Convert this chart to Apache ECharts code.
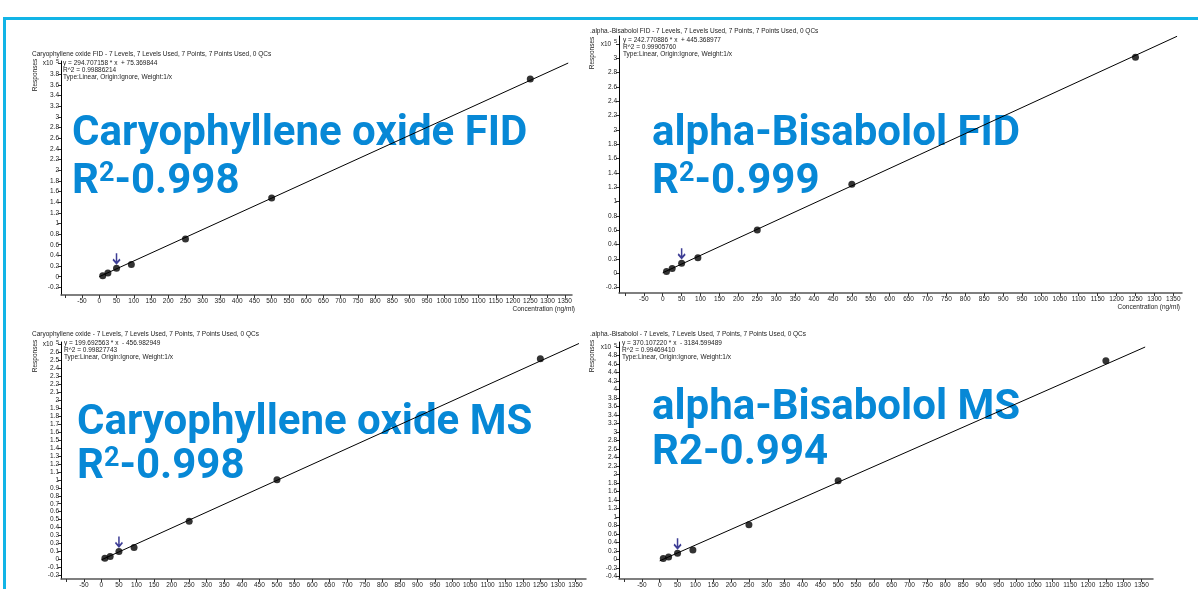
<!DOCTYPE html>
<html>
<head>
<meta charset="utf-8">
<script src="https://cdn.jsdelivr.net/npm/echarts@6/dist/echarts.min.js"></script>
<style>
html, body { margin: 0; padding: 0; background: #fff; }
#chart { width: 1198px; height: 589px; }
</style>
</head>
<body>
<div id="chart"></div>
<script>
// calibration levels, ng/ml
var levels = [10, 25, 50, 93, 250, 500, 1250];
var markedLevel = 50;

// responses (x10^5)
var caryFid = [0.02, 0.07, 0.157, 0.23, 0.707, 1.476, 3.71];
var bisaFid = [0.022, 0.064, 0.139, 0.213, 0.602, 1.242, 3.013];
var caryMs = [0.016, 0.037, 0.10, 0.15, 0.48, 1.0, 2.52];
var bisaMs = [0.023, 0.06, 0.145, 0.22, 0.815, 1.855, 4.68];

// ends of the fitted lines [conc, response x10^5]
var caryFidFit = [[0, 0.0008], [1360, 4.0088]];
var bisaFidFit = [[0, 0.0045], [1360, 3.3061]];
var caryMsFit = [[0, -0.0046], [1360, 2.7112]];
var bisaMsFit = [[0, -0.0318], [1360, 5.0016]];

// tick labels
var xTicks = [-100, -50, 0, 50, 100, 150, 200, 250, 300, 350, 400, 450, 500, 550, 600, 650,
  700, 750, 800, 850, 900, 950, 1000, 1050, 1100, 1150, 1200, 1250, 1300, 1350];
var xLabels = [-50, 0, 50, 100, 150, 200, 250, 300, 350, 400, 450, 500, 550, 600, 650,
  700, 750, 800, 850, 900, 950, 1000, 1050, 1100, 1150, 1200, 1250, 1300, 1350];
var yTicksCaryFid = [-0.2, 0, 0.2, 0.4, 0.6, 0.8, 1, 1.2, 1.4, 1.6, 1.8, 2, 2.2, 2.4, 2.6, 2.8, 3, 3.2, 3.4, 3.6, 3.8, 4];
var yTicksBisaFid = [-0.2, 0, 0.2, 0.4, 0.6, 0.8, 1, 1.2, 1.4, 1.6, 1.8, 2, 2.2, 2.4, 2.6, 2.8, 3, 3.2];
var yTicksCaryMs = [-0.2, -0.1, 0, 0.1, 0.2, 0.3, 0.4, 0.5, 0.6, 0.7, 0.8, 0.9, 1, 1.1, 1.2, 1.3, 1.4, 1.5,
  1.6, 1.7, 1.8, 1.9, 2, 2.1, 2.2, 2.3, 2.4, 2.5, 2.6, 2.7];
var yTicksBisaMs = [-0.4, -0.2, 0, 0.2, 0.4, 0.6, 0.8, 1, 1.2, 1.4, 1.6, 1.8, 2, 2.2, 2.4, 2.6, 2.8, 3,
  3.2, 3.4, 3.6, 3.8, 4, 4.2, 4.4, 4.6, 4.8, 5];

var smallFont = '"Liberation Sans", Arial, sans-serif';
var bigFont = 'Roboto, "Noto Sans", sans-serif';
var blue = '#0788d6';

var panels = [
  {grid: {left: 61, top: 61, width: 511, height: 234}, x: [-111, 1371], y: [-0.343, 4.047],
   yTicks: yTicksCaryFid, values: caryFid, fit: caryFidFit},
  {grid: {left: 619, top: 36, width: 563, height: 257}, x: [-115.6, 1373], y: [-0.278, 3.31],
   yTicks: yTicksBisaFid, values: bisaFid, fit: bisaFidFit},
  {grid: {left: 61, top: 342, width: 525, height: 239}, x: [-115, 1380], y: [-0.245, 2.73],
   yTicks: yTicksCaryMs, values: caryMs, fit: caryMsFit},
  {grid: {left: 619, top: 342, width: 534, height: 241}, x: [-114, 1382], y: [-0.46, 5.12],
   yTicks: yTicksBisaMs, values: bisaMs, fit: bisaMsFit}
];

var grids = [], xAxes = [], yAxes = [], series = [];
panels.forEach(function (p, i) {
  grids.push(p.grid);
  xAxes.push({
    type: 'value', gridIndex: i, min: p.x[0], max: p.x[1],
    splitLine: {show: false},
    axisLine: {onZero: false, lineStyle: {color: '#555', width: 1.5}},
    axisTick: {customValues: xTicks, length: 3, lineStyle: {color: '#333'}},
    axisLabel: {customValues: xLabels, fontSize: 6.5, fontFamily: smallFont, color: '#222', margin: 3,
      formatter: function (v) { return String(v); }}
  });
  var top = p.yTicks[p.yTicks.length - 1];
  yAxes.push({
    type: 'value', gridIndex: i, min: p.y[0], max: p.y[1],
    splitLine: {show: false},
    axisLine: {onZero: false, lineStyle: {color: '#000', width: 1}},
    axisTick: {customValues: p.yTicks, length: 3, lineStyle: {color: '#333'}},
    axisLabel: {
      customValues: p.yTicks, fontSize: 6.5, fontFamily: smallFont, color: '#222', margin: 2,
      formatter: function (v) { return v === top ? '{a|x10 }{e|5}' : String(+v.toFixed(2)); },
      rich: {
        a: {fontSize: 6.5, fontFamily: smallFont, color: '#222'},
        e: {fontSize: 5.5, fontFamily: smallFont, color: '#222', padding: [0, 0, 4, 1]}
      }
    }
  });
  series.push({
    type: 'line', xAxisIndex: i, yAxisIndex: i, data: p.fit,
    showSymbol: false, silent: true,
    lineStyle: {color: '#000', width: 1}
  });
  series.push({
    type: 'scatter', xAxisIndex: i, yAxisIndex: i, symbolSize: 7,
    itemStyle: {color: '#000'},
    data: levels.map(function (c, k) { return [c, p.values[k]]; })
  });
  var m = levels.indexOf(markedLevel);
  series.push({
    type: 'scatter', xAxisIndex: i, yAxisIndex: i,
    symbol: 'path://M5,0 L5,10 M1,6 L5,10 L9,6', symbolSize: [7, 10], symbolOffset: [0, -10],
    itemStyle: {color: 'transparent', borderColor: '#0d0d7a', borderWidth: 1.8},
    data: [[markedLevel, p.values[m]]]
  });
});

function small(text, x, y, extra) {
  var t = {type: 'text', x: x, y: y, silent: true,
    style: {text: text, fontSize: 6.5, fontFamily: smallFont, fill: '#222', textVerticalAlign: 'middle'}};
  if (extra) { for (var k in extra) t.style[k] = extra[k]; }
  return t;
}
function responses(x, y) {
  return {type: 'text', x: x, y: y, rotation: Math.PI / 2, silent: true,
    style: {text: 'Responses', fontSize: 6.5, fontFamily: smallFont, fill: '#222',
      textAlign: 'center', textVerticalAlign: 'middle'}};
}
function big(text, x, y) {
  return {type: 'text', x: x, y: y, silent: true,
    style: {text: text, fontSize: 42, fontWeight: 'bold', fontFamily: bigFont, fill: blue,
      textVerticalAlign: 'middle'}};
}
function bigR2(value, x, y) {
  return {type: 'text', x: x, y: y, silent: true,
    style: {text: '{r|R}{s|2}{r|' + value + '}', textVerticalAlign: 'middle', fill: blue,
      rich: {
        r: {fontSize: 42, fontWeight: 'bold', fontFamily: bigFont, fill: blue},
        s: {fontSize: 27, fontWeight: 'bold', fontFamily: bigFont, fill: blue, verticalAlign: 'top'}
      }}};
}

var graphics = [
  {type: 'rect', shape: {x: 4.5, y: 18.5, width: 1250, height: 620}, silent: true,
   style: {fill: 'none', stroke: '#12b4e6', lineWidth: 3}},

  small('Caryophyllene oxide FID - 7 Levels, 7 Levels Used, 7 Points, 7 Points Used, 0 QCs', 32, 54),
  small('y = 294.707158 * x  + 75.369844', 63, 63),
  small('R^2 = 0.99886214', 63, 70),
  small('Type:Linear, Origin:Ignore, Weight:1/x', 63, 77),
  responses(35, 75),
  small('Concentration (ng/ml)', 575, 309, {textAlign: 'right'}),

  small('.alpha.-Bisabolol FID - 7 Levels, 7 Levels Used, 7 Points, 7 Points Used, 0 QCs', 590, 31),
  small('y = 242.770886 * x  + 445.368977', 623, 40),
  small('R^2 = 0.99905760', 623, 47),
  small('Type:Linear, Origin:Ignore, Weight:1/x', 623, 54),
  responses(592, 53),
  small('Concentration (ng/ml)', 1180, 307, {textAlign: 'right'}),

  small('Caryophyllene oxide - 7 Levels, 7 Levels Used, 7 Points, 7 Points Used, 0 QCs', 32, 334),
  small('y = 199.692563 * x  - 456.982949', 64, 343),
  small('R^2 = 0.99827743', 64, 350),
  small('Type:Linear, Origin:Ignore, Weight:1/x', 64, 357),
  responses(35, 356),

  small('.alpha.-Bisabolol - 7 Levels, 7 Levels Used, 7 Points, 7 Points Used, 0 QCs', 590, 334),
  small('y = 370.107220 * x  - 3184.599489', 622, 343),
  small('R^2 = 0.99469410', 622, 350),
  small('Type:Linear, Origin:Ignore, Weight:1/x', 622, 357),
  responses(592, 356),

  big('Caryophyllene oxide FID', 72, 134),
  bigR2('-0.998', 72, 182),
  big('alpha-Bisabolol FID', 652, 134),
  bigR2('-0.999', 652, 182),
  big('Caryophyllene oxide MS', 77, 423),
  bigR2('-0.998', 77, 467),
  big('alpha-Bisabolol MS', 652, 408),
  big('R2-0.994', 652, 453)
];

var chart = echarts.init(document.getElementById('chart'));
chart.setOption({
  backgroundColor: '#fff',
  animation: false,
  grid: grids,
  xAxis: xAxes,
  yAxis: yAxes,
  series: series,
  graphic: graphics
});
</script>
</body>
</html>
